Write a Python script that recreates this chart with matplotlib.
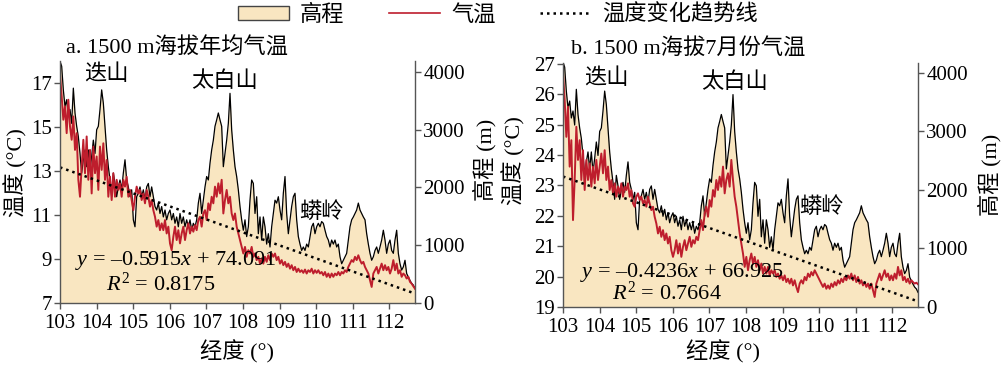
import numpy as np
import matplotlib
matplotlib.use("Agg")
import matplotlib.pyplot as plt
from matplotlib.patches import Patch
from matplotlib.lines import Line2D

plt.rcParams['font.family'] = ['Liberation Serif', 'Noto Sans CJK SC']
plt.rcParams['mathtext.fontset'] = 'custom'
plt.rcParams['mathtext.rm'] = 'Liberation Serif'
plt.rcParams['mathtext.it'] = 'Liberation Serif:italic'
plt.rcParams['axes.unicode_minus'] = False

# elevation profile along the 1500 m transect (m), shared by both panels
elev = [4185, 4100, 3690, 3400, 3520, 3230, 3350, 3110, 3720, 3290,
        3060, 2880, 2590, 2250, 2480, 2650, 2360, 2650, 2300, 2540,
        2820, 2590, 3000, 3060, 3350, 3690, 3460, 3060, 2650, 2360,
        2130, 1840, 2250, 2070, 1840, 2010, 2130, 1960, 2250, 2480,
        2130, 2010, 1840, 1960, 1440, 1320, 1840, 1900, 2010, 1840,
        1960, 1780, 2010, 2070, 1840, 2010, 1840, 1670, 1610, 1730,
        1550, 1670, 1490, 1610, 1440, 1550, 1610, 1440, 1550, 1380,
        1490, 1320, 1550, 1380, 1490, 1320, 1440, 1320, 1440, 1260,
        1380, 1320, 1440, 1730, 1900, 1550, 1780, 2010, 2190, 2130,
        2420, 2650, 2820, 3060, 3170, 3290, 3170, 3060, 2360, 2590,
        2820, 3110, 3630, 3000, 2650, 2360, 2190, 1960, 1670, 1440,
        1260, 1440, 1150, 1320, 1780, 2130, 2070, 1550, 1840, 1200,
        1490, 1090, 1490, 1320, 1020, 1200, 970, 1320, 1550, 1780,
        1730, 1840, 1610, 1440, 1900, 2190, 1550, 1200, 1440, 1670,
        1840, 1900, 1440, 1150, 1020, 910, 970, 910, 1020, 970,
        1150, 1320, 1380, 1200, 1320, 1380, 1320, 1410, 1380, 1260,
        1150, 1090, 970, 1090, 1020, 1090, 970, 1020, 800, 680,
        740, 800, 860, 1090, 1320, 1440, 1490, 1550, 1610, 1730,
        1610, 1550, 1490, 1440, 1200, 1020, 860, 740, 800, 910,
        970, 860, 970, 1090, 1260, 1090, 860, 1020, 1090, 910,
        860, 1090, 1260, 860, 680, 570, 625, 740, 510, 450,
        390, 340, 310, 250]

# annual mean temperature at 1500 m (deg C)
temp_year = [17.38, 16.4, 15.33, 15.94, 14.72, 16.24, 15.02, 14.42, 15.48, 13.96,
             14.72, 12.6, 11.83, 13.2, 14.42, 12.9, 14.57, 12.6, 13.96, 11.98,
             14.11, 12.9, 13.66, 12.14, 14.11, 13.05, 14.26, 12.6, 13.5, 11.83,
             12.74, 11.68, 12.9, 11.83, 12.6, 12.14, 12.44, 11.83, 12.6, 12.29,
             12.74, 11.83, 12.14, 11.68, 11.22, 11.83, 12.29, 11.98, 12.14, 11.68,
             11.98, 11.53, 12.14, 11.83, 11.38, 11.68, 11.22, 10.92, 10.47, 10.77,
             10.31, 10.62, 10.31, 10.77, 10.16, 10.47, 9.71, 9.4, 10.01, 10.47,
             9.86, 10.31, 9.71, 10.16, 10.47, 9.86, 10.31, 10.62, 10.16, 10.47,
             10.24, 10.54, 10.31, 10.77, 10.92, 10.47, 11.07, 11.22, 10.77, 11.53,
             11.22, 11.83, 11.53, 12.29, 11.83, 12.44, 11.98, 12.6, 11.07, 11.68,
             12.14, 11.53, 11.83, 11.07, 10.77, 11.07, 10.47, 10.16, 9.86, 9.55,
             9.25, 9.55, 9.1, 9.4, 9.25, 9.55, 9.1, 9.25, 8.95, 9.1,
             8.79, 9.02, 8.79, 9.1, 8.87, 9.17, 8.95, 9.25, 9.1, 9.25,
             8.95, 9.1, 8.79, 8.95, 8.72, 8.87, 8.64, 8.79, 8.56, 8.72,
             8.49, 8.64, 8.41, 8.56, 8.41, 8.49, 8.37, 8.52, 8.34, 8.49,
             8.41, 8.56, 8.34, 8.49, 8.37, 8.49, 8.34, 8.41, 8.26, 8.41,
             8.19, 8.34, 8.16, 8.34, 8.19, 8.34, 8.26, 8.41, 8.26, 8.41,
             8.34, 8.49, 8.41, 8.64, 8.79, 8.95, 8.87, 9.1, 8.95, 9.17,
             8.95, 8.79, 8.87, 8.64, 8.49, 8.34, 8.03, 7.73, 8.34, 8.49,
             8.64, 8.34, 8.56, 8.79, 8.49, 8.72, 8.49, 8.64, 8.34, 8.56,
             8.95, 8.49, 8.79, 8.34, 8.49, 8.19, 8.34, 8.26, 8.11, 8.19,
             7.96, 7.88, 7.76, 7.65]

# July temperature at 1500 m (deg C)
temp_july = [26.69, 25.81, 24.6, 25.59, 23.62, 24.49, 21.86, 23.18, 24.93, 23.84,
             24.49, 23.18, 24.16, 22.85, 23.84, 23.18, 23.73, 22.96, 23.62, 23.07,
             23.84, 23.18, 23.62, 24.05, 23.4, 24.16, 23.18, 23.62, 22.85, 23.18,
             22.74, 23.07, 22.63, 22.96, 22.74, 23.07, 22.63, 22.96, 22.85, 23.07,
             22.63, 22.85, 22.41, 22.3, 22.63, 22.74, 22.52, 22.63, 22.41, 22.52,
             22.3, 22.63, 22.41, 22.19, 22.3, 21.97, 21.75, 21.42, 21.64, 21.31,
             21.53, 21.2, 21.42, 21.09, 21.31, 20.87, 20.65, 20.87, 21.2, 20.76,
             21.09, 20.65, 20.98, 21.2, 20.87, 21.09, 21.31, 20.98, 21.2, 21.09,
             21.31, 21.2, 21.53, 21.86, 21.53, 22.08, 22.3, 21.97, 22.52, 22.3,
             22.85, 22.63, 23.18, 22.85, 23.29, 22.96, 23.62, 22.74, 23.18, 23.4,
             22.96, 23.84, 23.18, 22.63, 22.3, 21.86, 21.42, 21.09, 20.76, 20.32,
             20.65, 20.21, 20.54, 20.76, 20.43, 20.65, 20.32, 20.54, 20.21, 20.43,
             20.1, 20.32, 20.1, 20.32, 20.04, 20.21, 20.1, 20.21, 19.99, 20.1,
             19.93, 20.04, 19.88, 20.04, 19.82, 19.93, 19.77, 19.93, 19.71, 19.88,
             19.66, 19.49, 19.77, 19.88, 19.77, 19.99, 19.88, 20.1, 19.99, 20.15,
             20.04, 20.21, 20.1, 19.99, 19.88, 19.77, 19.66, 19.77, 19.6, 19.71,
             19.6, 19.77, 19.66, 19.82, 19.71, 19.88, 19.77, 19.93, 19.82, 19.99,
             19.88, 20.04, 19.93, 20.1, 19.88, 20.04, 19.82, 19.99, 19.77, 19.88,
             19.71, 19.82, 19.66, 19.77, 19.6, 19.77, 19.55, 19.33, 19.77, 19.93,
             20.1, 19.88, 20.04, 20.21, 19.99, 20.1, 19.88, 20.04, 19.88, 20.1,
             19.93, 20.32, 20.04, 20.21, 19.88, 19.99, 19.82, 19.93, 19.77, 19.88,
             19.82, 19.77, 19.8, 19.75]

lon = np.linspace(103, 112.7, len(elev))
xticks = list(range(103, 113))

W, H = 1001, 369
FILL = '#F9E6C1'
RED = '#BE1E2D'
SPINE = '#555555'


def fx(x):
    return x / W


def fy(y):
    return 1 - y / H


def panel(rect, temp, slope, icpt, r2, title, ylim, yticks, elev_top,
          title_xy, eq_xy, r2_xy, peaks, ylab_pos, rlab_pos, xlab_pos):
    l, t, r, b = rect
    ax = fig.add_axes([fx(l), fy(b), fx(r) - fx(l), fy(t) - fy(b)])
    ax2 = ax.twinx()
    ax.set_zorder(ax2.get_zorder() + 1)
    ax.patch.set_visible(False)

    ax2.fill_between(lon, 0, elev, color=FILL, lw=0)
    ax2.plot(lon, elev, color='black', lw=0.9)
    ax2.set_ylim(0, elev_top)
    ax2.set_yticks([0, 1000, 2000, 3000, 4000])

    ax.plot(lon, temp, color=RED, lw=1.4)
    fit = slope * lon + icpt
    ax.plot(lon, fit, color='black', lw=1.8, ls=(0, (1, 1.6)))
    ax.set_xlim(103, 112.7)
    ax.set_ylim(*ylim)
    ax.set_yticks(yticks)
    ax.set_xticks(xticks)

    for a in (ax, ax2):
        a.spines['top'].set_visible(False)
        for s in ('left', 'right', 'bottom'):
            a.spines[s].set_color(SPINE)
            a.spines[s].set_linewidth(1)
        a.tick_params(direction='out', length=4, width=1, color=SPINE,
                      labelsize=15, pad=2)
    ax.tick_params(axis='x', pad=4)
    ax.spines['right'].set_visible(False)
    ax2.spines['left'].set_visible(False)
    ax2.spines['bottom'].set_visible(False)

    ax.set_ylabel('温度 (°C)', fontsize=16)
    ax.yaxis.set_label_coords(*ylab_pos)
    ax2.set_ylabel('高程 (m)', fontsize=16)
    ax2.yaxis.set_label_coords(*rlab_pos)
    ax.set_xlabel('经度 (°)', fontsize=16)
    ax.xaxis.set_label_coords(*xlab_pos)

    for name, px, py in peaks:
        ax.text(px, py, name, fontsize=16, ha='center', va='center')

    fig.text(fx(title_xy[0]), fy(title_xy[1]), title, fontsize=16,
             ha='left', va='center')
    sign = '–' if slope < 0 else ''
    fig.text(fx(eq_xy[0]), fy(eq_xy[1]),
             r'$y$ = %s%.4f$x$ + %.3f' % (sign, abs(slope), icpt),
             fontsize=16, ha='left', va='center')
    fig.text(fx(r2_xy[0]), fy(r2_xy[1]), r'$R^{\mathrm{2}}$ = %.4f' % r2,
             fontsize=16, ha='left', va='center')
    return ax


fig = plt.figure(figsize=(W / 100, H / 100), dpi=100)

panel((60, 61, 415, 303), temp_year, -0.5915, 74.091, 0.8175,
      'a. 1500 m海拔年均气温', (7, 18), [7, 9, 11, 13, 15, 17], 4190,
      (66, 48), (75, 260), (106, 284),
      [('迭山', 104.28, 17.4), ('太白山', 107.5, 17.05), ('蟒岭', 110.13, 11.1)],
      (-0.093, 0.54), (1.163, 0.59), (0.5, -0.153))

panel((563, 63, 918, 307), temp_july, -0.4236, 66.925, 0.7664,
      'b. 1500 m海拔7月份气温', (19, 27.03), list(range(19, 28)), 4170,
      (571, 48), (580, 272), (612, 293),
      [('迭山', 104.2, 26.53), ('太白山', 107.69, 26.4), ('蟒岭', 110.06, 22.26)],
      (-0.107, 0.6), (1.169, 0.54), (0.45, -0.135))

handles = [Patch(facecolor=FILL, edgecolor='#444444', lw=1),
           Line2D([], [], color=RED, lw=1.2),
           Line2D([], [], color='black', lw=1.8, ls=(0, (1, 1.6)))]
fig.legend(handles, ['高程', '气温', '温度变化趋势线'], ncol=3, loc='center',
           bbox_to_anchor=(fx(498), fy(15)), frameon=False, fontsize=16,
           handlelength=2.3, handleheight=0.6, handletextpad=0.5,
           columnspacing=2.0)

fig.savefig('out.png', dpi=100)
